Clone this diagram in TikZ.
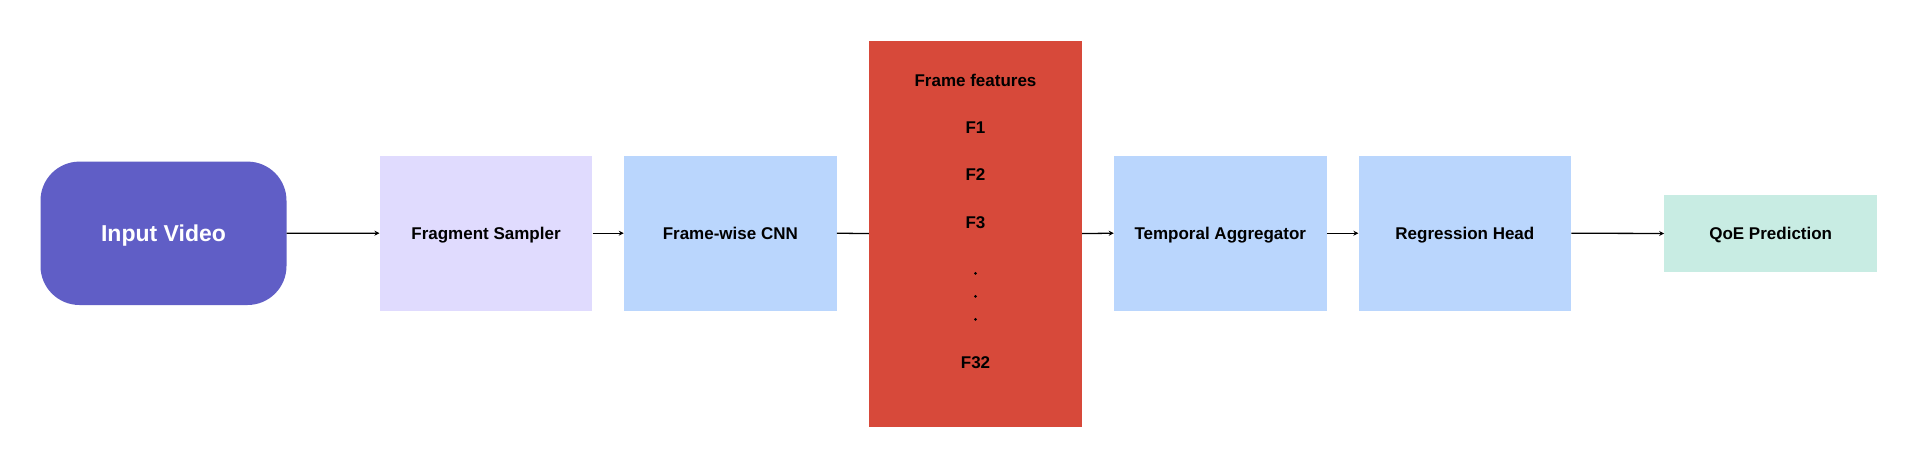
\documentclass[tikz,border=0pt]{standalone}
\usepackage{fontspec}
\setmainfont{Liberation Sans}
\usetikzlibrary{arrows.meta}
\definecolor{cinput}{RGB}{96,94,198}
\definecolor{clav}{RGB}{224,219,254}
\definecolor{cblue}{RGB}{186,214,253}
\definecolor{cred}{RGB}{215,73,58}
\definecolor{cmint}{RGB}{200,236,227}
\tikzset{
  box/.style={rectangle, inner sep=0pt, minimum width=212.7pt, minimum height=155pt,
    font=\bfseries\fontsize{17}{20}\selectfont, text height=12.2pt, text depth=0pt},
  lbl/.style={inner sep=0pt, anchor=base, font=\bfseries\fontsize{17}{20}\selectfont},
  conn/.style={line width=1.3pt, draw=black},
  arr/.style={conn, -{Stealth[length=5pt,width=5pt]}},
}
\begin{document}
\begin{tikzpicture}[x=1pt,y=-1pt]
\useasboundingbox (0,0) rectangle (1920,468);
\fill[white] (0,0) rectangle (1920,468);
\node[box, fill=cinput, rounded corners=39pt, minimum width=246pt, minimum height=143.4pt,
  text=white, font=\bfseries\fontsize{23}{27}\selectfont, text height=16.5pt] (in) at (163.5,233.3) {Input Video};
\node[box, fill=clav] (frag) at (486,233.2) {Fragment Sampler};
\node[box, fill=cblue] (cnn) at (730.3,233.2) {Frame-wise CNN};
\node[box, fill=cred, minimum height=386pt] (feat) at (975.5,233.6) {};
\node[box, fill=cblue] (temp) at (1220.3,233.2) {Temporal Aggregator};
\node[box, fill=cblue] (reg) at (1464.9,233.2) {Regression Head};
\node[box, fill=cmint, minimum height=77pt] (qoe) at (1770.7,233.5) {QoE Prediction};
% feature labels
\node[lbl] (ft) at (975.5,87) {Frame features};
\node[lbl] (f1) at (975.5,134) {F1};
\node[lbl] (f2) at (975.5,181) {F2};
\node[lbl] (f3) at (975.5,228) {F3};
\fill (975.5,273.3) circle (1.5pt);
\fill (975.5,296.3) circle (1.5pt);
\fill (975.5,319.3) circle (1.5pt);
\node[lbl] (f32) at (975.5,368) {F32};
% connectors
\draw[arr] (in.east) -- (frag.west);
\draw[arr] (frag.east) -- (cnn.west);
\draw[conn] (cnn.east) -- (feat.west);
\draw[arr] (feat.east) -- (temp.west);
\draw[arr] (temp.east) -- (reg.west);
\draw[arr] (reg.east) -- (qoe.west);
\end{tikzpicture}
\end{document}
